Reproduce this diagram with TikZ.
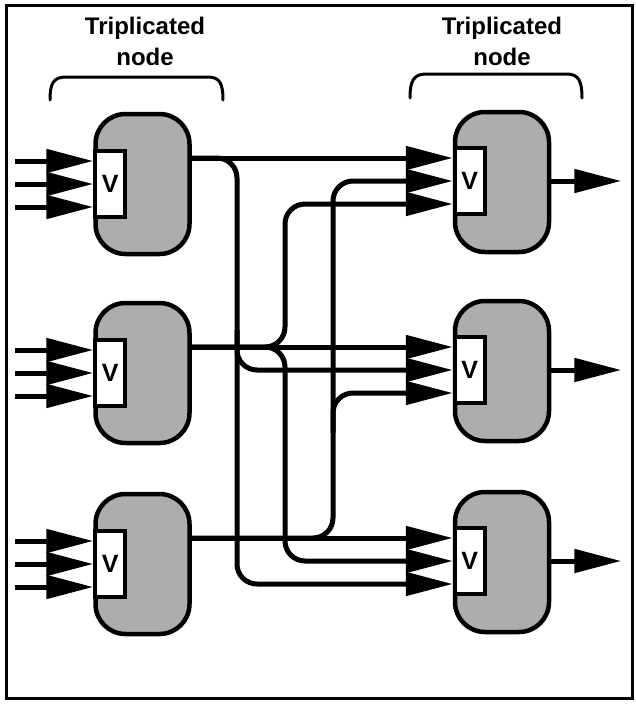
\documentclass[tikz,border=0pt]{standalone}
\usepackage{fontspec}
\setmainfont{Liberation Sans}[BoldFont={Liberation Sans Bold}]
\usetikzlibrary{arrows.meta,calc}
\begin{document}
\begin{tikzpicture}[x=1pt,y=-1pt,
  conn/.style={line width=5pt, rounded corners=20pt},
  arr/.style={conn, -{Triangle[length=47pt,width=23pt]}},
  unit/.style={draw, line width=4.5pt, fill=black!32, rounded corners=30pt,
    minimum width=94pt, minimum height=140pt, inner sep=0pt},
  voter/.style={draw, line width=4pt, fill=white, minimum width=30pt,
    minimum height=66pt, inner sep=0pt, font=\bfseries\fontsize{25}{25}\selectfont},
  lbl/.style={align=center, font=\bfseries\fontsize{24}{31}\selectfont, inner sep=0pt, anchor=north},
  brk/.style={line width=3pt, line cap=round}
]
\useasboundingbox (0,0) rectangle (635,704);
\draw[line width=3pt] (6,5) rectangle (632,698);

% labels and brackets
\node[lbl] (tl) at (145,17) {Triplicated\\node};
\node[lbl] (tr) at (502,17) {Triplicated\\node};
\draw[brk] (50,100) .. controls (50,84) and (53,77) .. (66,77) -- (208,77) .. controls (220,77) and (223,84) .. (223,100);
\draw[brk] (410,98) .. controls (410,82) and (413,74) .. (426,74) -- (567,74) .. controls (579,74) and (582,82) .. (582,98);

% left units
\node[unit] (L1) at (142.5,184) {};
\node[unit] (L2) at (142.5,373) {};
\node[unit] (L3) at (142.5,564) {};
% right units
\node[unit] (R1) at (502,182) {};
\node[unit] (R2) at (502,371) {};
\node[unit] (R3) at (502,562) {};

% voters
\foreach \n in {1,2,3}{
  \node[voter, anchor=west] (LV\n) at (L\n.west) {V};
  \node[voter, anchor=west] (RV\n) at ($(R\n.west)+(0,-1)$) {V};
}

% coordinates
\foreach \n in {1,2,3}{
  \coordinate (L\n o) at ($(L\n.east)+(0,-26)$);
  \coordinate (R\n i1) at ($(RV\n.west)+(0,-23)$);
  \coordinate (R\n i2) at (RV\n.west);
  \coordinate (R\n i3) at ($(RV\n.west)+(0,23)$);
}
\coordinate (xA) at (237,0);
\coordinate (xB) at (285,0);
\coordinate (xC) at (333,0);

% inputs of left units
\foreach \n in {1,2,3}{
  \foreach \d in {-23,0,23}{
    \coordinate (tip) at ($(LV\n.west)+(0,\d)$);
    \draw[arr] ($(tip)+(-78,0)$) -- (tip);
  }
  % outputs of right units
  \draw[arr] (R\n.east |- RV\n) -- ++(70,0);
}

% connectors from L1
\draw[arr] (L1o) -- (R1i1);
\draw[arr] (L1o) -- (L1o -| xA) -- (R3i3 -| xA) -- (R3i3);
\draw[arr] ($(R2i2 -| xA)+(0,-40)$) -- (R2i2 -| xA) -- (R2i2);
% connectors from L2
\draw[arr] (L2o) -- (R2i1);
\draw[arr] (L2o) -- (L2o -| xB) -- (R1i3 -| xB) -- (R1i3);
\draw[arr] (L2o) -- (L2o -| xB) -- (R3i2 -| xB) -- (R3i2);
% connectors from L3
\draw[arr] (L3o) -- (R3i1);
\draw[arr] (L3o) -- (L3o -| xC) -- (R1i2 -| xC) -- (R1i2);
\draw[arr] ($(R2i3 -| xC)+(0,40)$) -- (R2i3 -| xC) -- (R2i3);
\end{tikzpicture}
\end{document}
